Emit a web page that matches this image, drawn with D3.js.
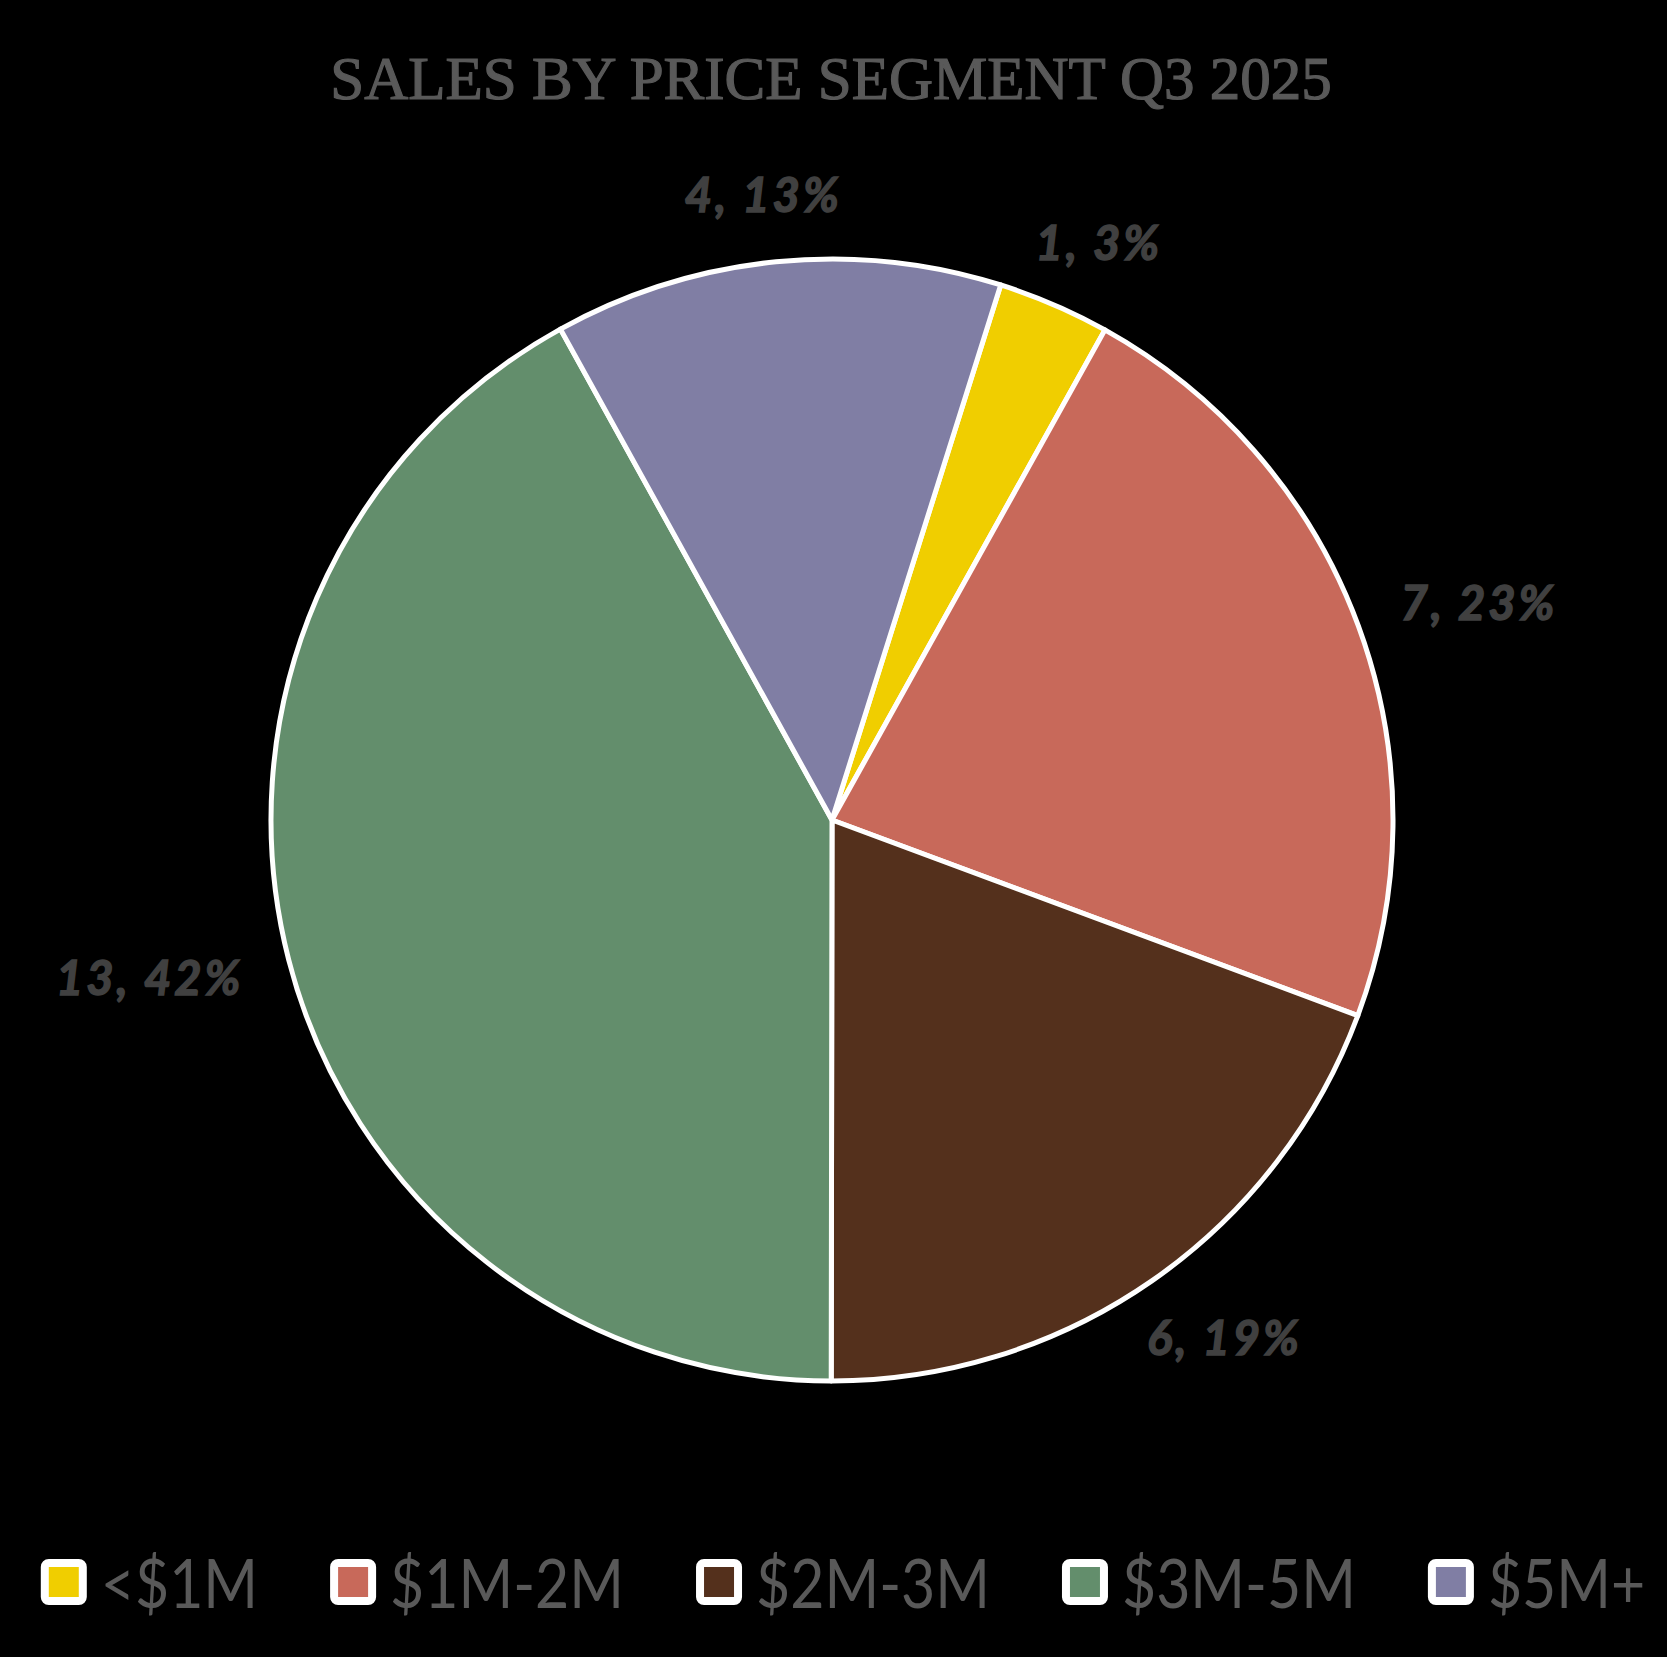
<!DOCTYPE html>
<html>
<head>
<meta charset="utf-8">
<script src="https://cdn.jsdelivr.net/npm/d3@7"></script>
<style>
  html, body { margin: 0; padding: 0; background: #000; }
  svg { display: block; }
</style>
</head>
<body>
<script>
// chart data
var categories = ["<$1M", "$1M-2M", "$2M-3M", "$3M-5M", "$5M+"];
var salesCount = [1, 7, 6, 13, 4];
var sliceColors = ["#F0CE00", "#C8695A", "#54301C", "#638E6C", "#807EA4"];
var chartTitle = "SALES BY PRICE SEGMENT Q3 2025";

var width = 1667, height = 1657;
var cx = 832, cy = 820, radius = 561;
var firstAngle = 17.5 * Math.PI / 180; // first slice angle

var svg = d3.select("body").append("svg")
  .attr("width", width)
  .attr("height", height);

svg.append("rect")
  .attr("width", width)
  .attr("height", height)
  .attr("fill", "#000");

// title
svg.append("text")
  .attr("x", 831)
  .attr("y", 99)
  .attr("text-anchor", "middle")
  .style("font-family", "'Liberation Serif', 'DejaVu Serif', serif")
  .style("font-size", "61px")
  .style("fill", "#595959")
  .style("stroke", "#595959")
  .style("stroke-width", 1.2)
  .text(chartTitle);

var total = d3.sum(salesCount);
var data = categories.map(function(c, i) {
  return { name: c, value: salesCount[i], color: sliceColors[i] };
});

var pie = d3.pie()
  .sort(null)
  .value(function(d) { return d.value; })
  .startAngle(firstAngle)
  .endAngle(firstAngle + 2 * Math.PI);

var arc = d3.arc().innerRadius(0).outerRadius(radius);

var g = svg.append("g").attr("transform", "translate(" + cx + "," + cy + ")");

var arcs = pie(data);

g.selectAll("path")
  .data(arcs)
  .enter()
  .append("path")
  .attr("d", arc)
  .style("fill", function(d) { return d.data.color; })
  .style("stroke", "#fff")
  .style("stroke-width", 5)
  .style("stroke-linejoin", "round");

// data labels, outside end
var labelPad = 50;
var labels = g.selectAll("text.lbl")
  .data(arcs)
  .enter()
  .append("text")
  .attr("class", "lbl")
  .attr("text-anchor", "middle")
  .attr("dominant-baseline", "central")
  .style("font-family", "Lato, 'Open Sans', sans-serif")
  .style("font-weight", "700")
  .style("font-style", "italic")
  .style("font-size", "47px")
  .style("letter-spacing", "3px")
  .style("fill", "#404040")
  .style("stroke", "#404040")
  .style("stroke-width", 1.5)
  .text(function(d) {
    return d.data.value + ", " + Math.round(d.data.value / total * 100) + "%";
  });

labels.each(function(d) {
  var a = (d.startAngle + d.endAngle) / 2;
  var bb = this.getBBox();
  var r = radius + labelPad;
  var x = Math.sin(a) * r + Math.sin(a) * bb.width / 2;
  var y = -Math.cos(a) * r - Math.cos(a) * 18;
  d3.select(this).attr("x", x).attr("y", y);
});

// legend
var legend = svg.append("g");
var sq = 38, sqStroke = 8, gap = 14, itemGap = 76;
var xPos = 0;
var items = legend.selectAll("g.item")
  .data(data)
  .enter()
  .append("g")
  .attr("class", "item");

items.append("rect")
  .attr("x", sqStroke / 2)
  .attr("y", -sq / 2)
  .attr("width", sq)
  .attr("height", sq)
  .attr("rx", 4)
  .style("fill", function(d) { return d.color; })
  .style("stroke", "#fff")
  .style("stroke-width", sqStroke);

items.append("text")
  .attr("x", 0)
  .attr("y", 0)
  .attr("dominant-baseline", "central")
  .attr("transform", "translate(" + (sq + sqStroke + gap) + ",0) scale(0.88,1)")
  .style("font-family", "Lato, 'Open Sans', sans-serif")
  .style("font-size", "67px")
  .style("fill", "#595959")
  .text(function(d) { return d.name; });

items.each(function() {
  var w = this.getBoundingClientRect().width;
  d3.select(this).attr("transform", "translate(" + xPos + ",0)");
  xPos += w + itemGap;
});
var legendWidth = xPos - itemGap;
legend.attr("transform", "translate(" + (841 - legendWidth / 2) + ",1582)");
</script>
</body>
</html>
